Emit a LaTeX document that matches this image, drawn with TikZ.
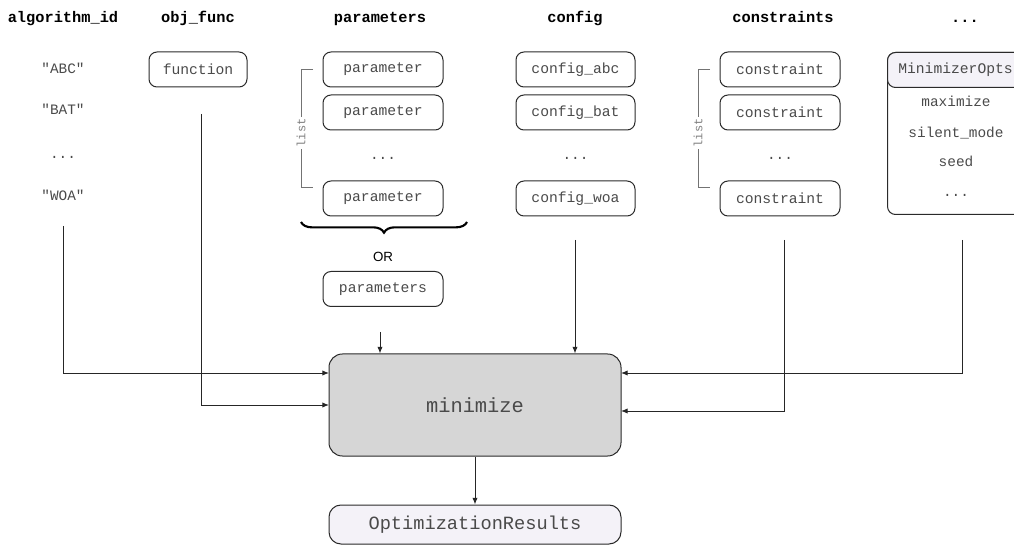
\documentclass[tikz,border=0pt]{standalone}
\usepackage{fontspec}
\setmainfont{Liberation Sans}
\setmonofont{Liberation Mono}
\usetikzlibrary{arrows.meta,decorations.pathreplacing}
\definecolor{txt}{HTML}{4A4A4A}
\definecolor{edge}{HTML}{2A2A2A}
\definecolor{core}{HTML}{D6D6D6}
\definecolor{pale}{HTML}{F4F2F8}
\tikzset{
  head/.style={font=\ttfamily\bfseries\fontsize{11.5}{13}\selectfont, text=black, anchor=base},
  item/.style={font=\ttfamily\fontsize{10.8}{12}\selectfont, text=txt, anchor=base},
  box/.style={draw=edge, line width=0.75pt, rounded corners=6pt, minimum height=35*0.75pt,
    inner sep=0pt, font=\ttfamily\fontsize{11}{12}\selectfont, text=txt},
  listmark/.style={draw=gray!90!black, line width=0.75pt},
  listlabel/.style={font=\ttfamily\fontsize{9}{10}\selectfont, text=gray, fill=white,
    rotate=90, inner sep=1.5pt},
  link/.style={draw=black!85, line width=0.75pt},
  feed/.style={link, -{Latex[length=5pt,width=4pt]}},
}
\begin{document}
\begin{tikzpicture}[x=0.75pt,y=-0.75pt]
\useasboundingbox (0,0) rectangle (1014,545);
\clip (0,0) rectangle (1014,545);

% column headings
\node[head] (hAlg)  at (63,23)  {algorithm\_id};
\node[head] (hObj)  at (198,23) {obj\_func};
\node[head] (hPar)  at (380,23) {parameters};
\node[head] (hCfg)  at (575,23) {config};
\node[head] (hCon)  at (783,23) {constraints};
\node[head] (hEtc)  at (965,23) {...};

% algorithm ids
\node[item] (idABC) at (63,74)  {"ABC"};
\node[item] (idBAT) at (63,115) {"BAT"};
\node[item] (idDot) at (63,159) {...};
\node[item] (idWOA) at (63,201) {"WOA"};

% objective function
\node[box, minimum width=98*0.75pt] (fn) at (198,69.5) {function};

% parameters
\node[box, minimum width=120*0.75pt] (p1) at (383,69.5)  {parameter};
\node[box, minimum width=120*0.75pt] (p2) at (383,112.5) {parameter};
\node[item] (pDot) at (383,160) {...};
\node[box, minimum width=120*0.75pt] (p3) at (383,198.5) {parameter};
\draw[listmark] (313,70) -- (301,70) -- (301,188) -- (313,188);
\node[listlabel] (pList) at (301,133) {list};
\draw[line width=1.6pt, decorate, decoration={brace, mirror, amplitude=8pt}]
  (301,222) -- (467,222);
\node[font=\fontsize{10}{12}\selectfont, anchor=base] (orTxt) at (383,262) {OR};
\node[box, minimum width=120*0.75pt] (pAll) at (383,289) {parameters};

% configs
\node[box, minimum width=119*0.75pt] (c1) at (575.5,69.5)  {config\_abc};
\node[box, minimum width=119*0.75pt] (c2) at (575.5,112.5) {config\_bat};
\node[item] (cDot) at (575.5,160) {...};
\node[box, minimum width=119*0.75pt] (c3) at (575.5,198.5) {config\_woa};

% constraints
\node[box, minimum width=120*0.75pt] (k1) at (780,69.5)  {constraint};
\node[box, minimum width=120*0.75pt] (k2) at (780,112.5) {constraint};
\node[item] (kDot) at (780,160) {...};
\node[box, minimum width=120*0.75pt] (k3) at (780,198.5) {constraint};
\draw[listmark] (710,70) -- (698,70) -- (698,188) -- (710,188);
\node[listlabel] (kList) at (698,133) {list};

% minimizer options
\node[box, minimum width=136*0.75pt, minimum height=162*0.75pt, anchor=north west] (opt) at (887,52) {};
\node[box, fill=pale, minimum width=136*0.75pt, anchor=north west] (optHead) at (887,52) {MinimizerOpts};
\node[item] (oMax)  at (956,107) {maximize};
\node[item] (oSil)  at (956,138) {silent\_mode};
\node[item] (oSeed) at (956,167) {seed};
\node[item] (oDot)  at (956,197) {...};

% core call and result
\node[box, fill=core, rounded corners=10pt, minimum width=292*0.75pt, minimum height=102*0.75pt,
  font=\ttfamily\fontsize{15.3}{17}\selectfont] (mini) at (475,405) {minimize};
\node[box, fill=pale, rounded corners=9pt, minimum width=292*0.75pt, minimum height=39*0.75pt,
  font=\ttfamily\fontsize{14}{16}\selectfont] (res) at (475,524.5) {OptimizationResults};

% connector ends
\coordinate (sAlg) at (63,226);
\coordinate (sObj) at (201,114);
\coordinate (sPar) at (380,332);
\coordinate (sCfg) at (575,240);
\coordinate (sCon) at (784,240);
\coordinate (sOpt) at (962,240);
\coordinate (inAlg) at (329,373);
\coordinate (inObj) at (329,405);
\coordinate (inOpt) at (621,373);
\coordinate (inCon) at (621,411);

\draw[feed] (sAlg) |- (inAlg);
\draw[feed] (sObj) |- (inObj);
\draw[feed] (sPar) -- (sPar |- mini.north);
\draw[feed] (sCfg) -- (sCfg |- mini.north);
\draw[feed] (sCon) |- (inCon);
\draw[feed] (sOpt) |- (inOpt);
\draw[feed] (mini.south) -- (res.north);
\end{tikzpicture}
\end{document}
